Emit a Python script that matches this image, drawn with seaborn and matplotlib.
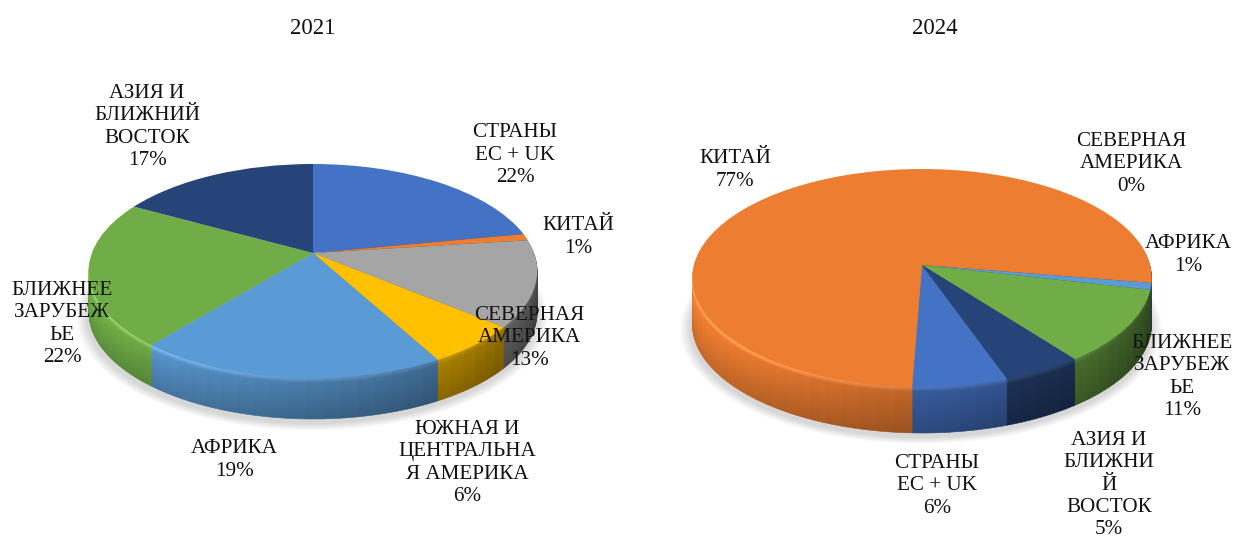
import numpy as np
import matplotlib
matplotlib.use("Agg")
import matplotlib.pyplot as plt
from matplotlib.transforms import Transform
from matplotlib.colors import to_rgb
import seaborn as sns

# ---------- data ----------
years = ["2021", "2024"]
regions_2021 = ["СТРАНЫ\nЕС + UK", "КИТАЙ", "СЕВЕРНАЯ\nАМЕРИКА", "ЮЖНАЯ И\nЦЕНТРАЛЬНА\nЯ АМЕРИКА",
                "АФРИКА", "БЛИЖНЕЕ\nЗАРУБЕЖ\nЬЕ", "АЗИЯ И\nБЛИЖНИЙ\nВОСТОК"]
values_2021 = [22, 1, 13, 6, 19, 22, 17]
regions_2024 = ["СТРАНЫ\nЕС + UK", "КИТАЙ", "СЕВЕРНАЯ\nАМЕРИКА", "АФРИКА",
                "БЛИЖНЕЕ\nЗАРУБЕЖ\nЬЕ", "АЗИЯ И\nБЛИЖНИ\nЙ\nВОСТОК"]
values_2024 = [6, 77, 0, 1, 11, 5]
colors_2021 = ["#4472C4", "#ED7D31", "#A5A5A5", "#FFC000", "#5B9BD5", "#70AD47", "#264478"]
colors_2024 = ["#4472C4", "#ED7D31", "#A5A5A5", "#5B9BD5", "#70AD47", "#264478"]

# ---------- layout ----------
label_xy_2021 = [(515, 155), (578, 237), (529, 338), (467, 463), (234, 460), (62, 324), (147, 127)]
label_xy_2024 = [(937, 486), (735, 170), (1131, 164), (1188, 255), (1182, 377), (1109, 485)]
title_xy = [(313, 28), (935, 28)]
FONT = "Liberation Serif"
FS = 15.2
FS_TITLE = 16.5

sns.set_theme(style="white")
plt.rcParams["font.family"] = [FONT, "DejaVu Sans"]


class Persp(Transform):
    """Maps the unit-circle pie plane to a tilted disc in pixel coordinates."""
    input_dims = output_dims = 2
    is_separable = False
    has_inverse = False

    def __init__(self, cx, cy, rx, up, down, dz=0.0):
        super().__init__()
        self.k = (down - up) / (down + up)
        self.s = up * (1 + self.k)
        self.cx, self.cy, self.rx, self.dz = cx, cy, rx, dz

    def transform_non_affine(self, xy):
        xy = np.asarray(xy, float)
        d = 1 + self.k * xy[:, 1]
        return np.column_stack([self.cx + self.rx * xy[:, 0] / d,
                                self.cy - self.s * xy[:, 1] / d + self.dz])


def shade(rgb, theta, z, depth):
    x = np.cos(np.radians(theta))
    h = 0.80 - 0.26 * x - 0.12 * max(x, 0) ** 6
    rel = z / depth
    h *= 1.02 - 0.22 * rel
    c = np.clip(np.array(rgb) * h, 0, 1)
    if z < 5:                       # bright bevel along the lip
        c = np.clip(c + (1 - z / 5) * 0.16 * (0.5 - 0.5 * x + 0.25), 0, 1)
    return tuple(c)


def draw_pie(ax, values, colors, start, cx, cy, rx, up, down, depth):
    values = np.asarray(values, float)
    # soft shadow
    for i in range(8):
        wed, _ = ax.pie([1], radius=1.0 + 0.006 * (8 - i), colors=["#000000"],
                        wedgeprops={"alpha": 0.018, "linewidth": 0})
        wed[0].set_transform(Persp(cx - 1, cy, rx, up, down, depth + 4) + ax.transData)
    # side wall: split each slice only for the shading
    fr, idx = [], []
    for i, v in enumerate(values):
        n = int(np.ceil(v * 3.6 / 4.0))
        for _ in range(n):
            fr.append(v / n)
            idx.append(i)
    for z in np.arange(depth, 0, -1.0):
        wed, _ = ax.pie(fr, startangle=start, counterclock=False,
                        colors=["#000000"] * len(fr), normalize=True)
        tr = Persp(cx, cy, rx, up, down, z) + ax.transData
        for w, i in zip(wed, idx):
            mid = 0.5 * (w.theta1 + w.theta2)
            if np.sin(np.radians(mid)) > 0.35:
                w.remove()
                continue
            c = shade(to_rgb(colors[i]), mid, z, depth)
            w.set_facecolor(c)
            w.set_edgecolor(c)
            w.set_linewidth(0.4)
            w.set_transform(tr)
    # top face
    wed, _ = ax.pie(values, startangle=start, counterclock=False, colors=colors,
                    wedgeprops={"linewidth": 0})
    tr = Persp(cx, cy, rx, up, down, 0) + ax.transData
    for w in wed:
        w.set_transform(tr)


fig = plt.figure(figsize=(12.33, 5.39), dpi=100, facecolor="white")
ax = fig.add_axes([0, 0, 1, 1])

draw_pie(ax, values_2021, colors_2021, 90, 313, 253, 221, 89, 125, 41)
draw_pie(ax, values_2024, colors_2024, -70.6, 922, 265, 228, 96, 122, 46)

ax.set_xlim(0, 1233)
ax.set_ylim(539, 0)
ax.axis("off")

for (x, y), t in zip(title_xy, years):
    ax.text(x, y, t, ha="center", va="center", fontsize=FS_TITLE, color="#111111")
for regs, vals, pos in ((regions_2021, values_2021, label_xy_2021),
                        (regions_2024, values_2024, label_xy_2024)):
    for r, v, (x, y) in zip(regs, vals, pos):
        ax.text(x, y, f"{r}\n{v}%", ha="center", va="center", fontsize=FS,
                linespacing=1.24, color="#111111", multialignment="center")

fig.savefig("out.png", dpi=100, facecolor="white")
